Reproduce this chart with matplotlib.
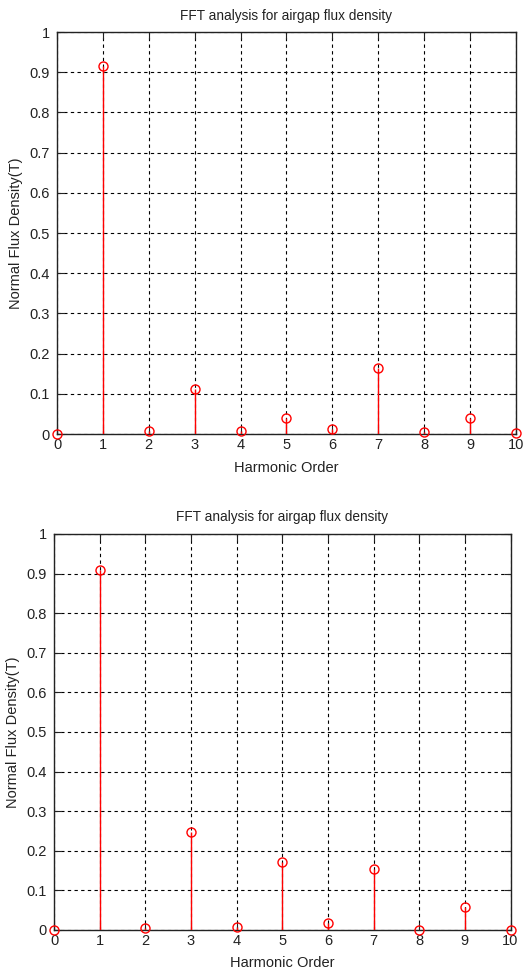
import numpy as np
import matplotlib
matplotlib.use('Agg')
import matplotlib.pyplot as plt

plt.rcParams['font.family'] = ['Liberation Sans', 'DejaVu Sans']

#harmonic orders and FFT magnitudes
harmonics = np.arange(0, 11)
flux_top = [0.0, 0.915, 0.008, 0.111, 0.008, 0.040, 0.013, 0.165, 0.004, 0.040, 0.003]
flux_bottom = [0.0, 0.909, 0.004, 0.248, 0.008, 0.172, 0.018, 0.155, 0.001, 0.058, 0.001]

title_text = 'FFT analysis for airgap flux density'
x_label = 'Harmonic Order'
y_label = 'Normal Flux Density(T)'
y_ticks = [0, 0.1, 0.2, 0.3, 0.4, 0.5, 0.6, 0.7, 0.8, 0.9, 1]
y_tick_labels = ['0', '0.1', '0.2', '0.3', '0.4', '0.5', '0.6', '0.7', '0.8', '0.9', '1']

fig = plt.figure(figsize=(5.25, 9.74), dpi=100)
ax1 = fig.add_axes([0.1086, 0.5544, 0.874, 0.4127])
ax2 = fig.add_axes([0.1029, 0.0452, 0.8695, 0.4066])


def draw_stem(ax, values):
    ax.vlines(harmonics, 0, values, colors='#ff0000', linewidth=1.0, zorder=3)
    ax.plot(harmonics, values, 'o', mfc='none', mec='#ff0000', ms=6.5,
            mew=1.0, clip_on=False, zorder=4)
    ax.set_xlim(0, 10)
    ax.set_ylim(0, 1)
    ax.set_xticks(harmonics)
    ax.set_yticks(y_ticks)
    ax.set_yticklabels(y_tick_labels)
    ax.grid(True, color='black', linestyle=(0, (3, 3)), linewidth=0.8)
    ax.set_axisbelow(True)
    ax.tick_params(direction='in', length=5, top=True, right=True,
                   labelsize=10.5, colors='#222222')
    ax.tick_params(axis='x', pad=3)
    ax.tick_params(axis='y', pad=5)
    for s in ax.spines.values():
        s.set_linewidth(1.0)
        s.set_color('#222222')
    ax.set_title(title_text, fontsize=9.8, pad=9, color='#222222')
    ax.set_xlabel(x_label, fontsize=10.5, labelpad=6, color='#222222')
    ax.set_ylabel(y_label, fontsize=10.5, labelpad=5, color='#222222')


draw_stem(ax1, flux_top)
draw_stem(ax2, flux_bottom)

fig.savefig('out.png', dpi=100, facecolor='white')
